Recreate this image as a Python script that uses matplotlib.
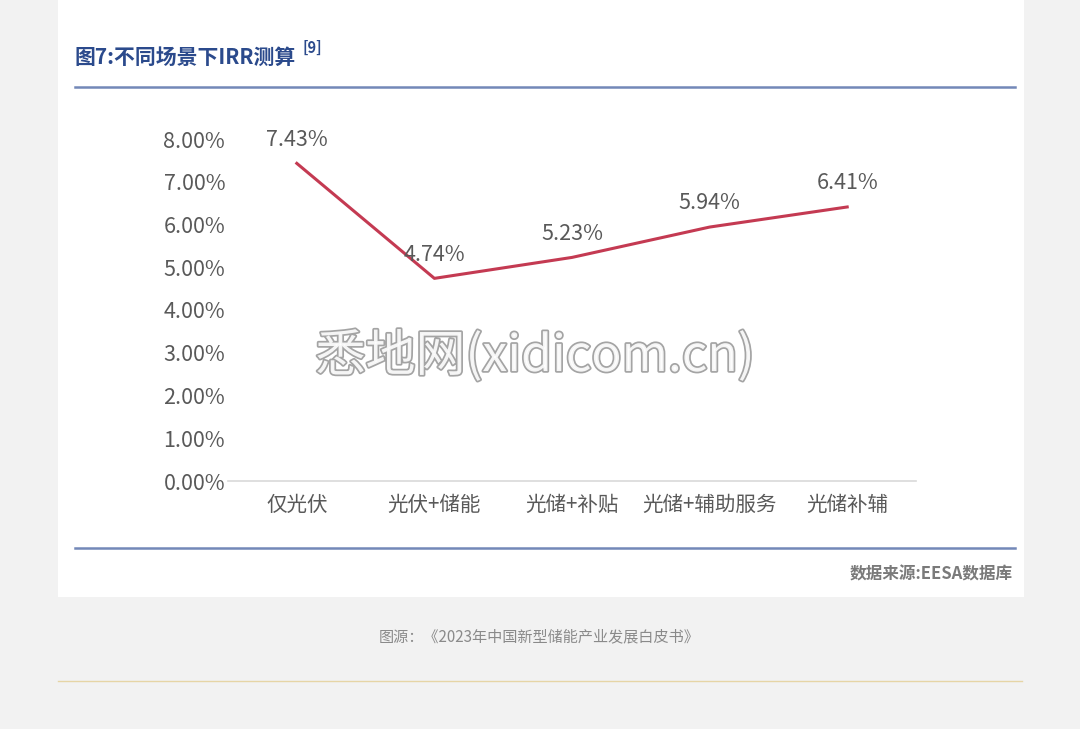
import matplotlib.pyplot as plt
from matplotlib.patches import Rectangle
from matplotlib.lines import Line2D
import matplotlib.patheffects as pe

plt.rcParams['font.family'] = ['Noto Sans CJK SC', 'DejaVu Sans']

# 数据
scenarios = ["仅光伏", "光伏+储能", "光储+补贴", "光储+辅助服务", "光储补辅"]
irr = [7.43, 4.74, 5.23, 5.94, 6.41]
yticks = [0, 1, 2, 3, 4, 5, 6, 7, 8]

W, H = 1080, 729
fig = plt.figure(figsize=(W / 100, H / 100), dpi=100)
fig.patch.set_facecolor('#f2f2f2')

# 白色面板（放在坐标轴下面）
fig.patches.append(Rectangle((58 / W, 1 - 597 / H), (1024 - 58) / W, 597 / H,
                             transform=fig.transFigure, facecolor='white',
                             edgecolor='none', zorder=-5))

# 标题与分隔线
fig.text(75 / W, 1 - 57 / H, "图7:不同场景下IRR测算", fontsize=15, fontweight='bold',
         color='#2b4a8c', va='center', ha='left')
fig.text(303 / W, 1 - 48 / H, "[9]", fontsize=10.5, fontweight='bold',
         color='#2b4a8c', va='center', ha='left')
fig.lines.append(Line2D([75 / W, 1015 / W], [1 - 87 / H, 1 - 87 / H],
                        transform=fig.transFigure, color='#7388b8', lw=1.8))
fig.lines.append(Line2D([75 / W, 1015 / W], [1 - 548 / H, 1 - 548 / H],
                        transform=fig.transFigure, color='#7388b8', lw=1.8))
fig.text(1013 / W, 1 - 574 / H, "数据来源:EESA数据库", fontsize=12, fontweight='bold',
         color='#7a7a7a', va='center', ha='right')
fig.text(539 / W, 1 - 637 / H, "图源：《2023年中国新型储能产业发展白皮书》", fontsize=10.9,
         color='#8a8a8a', va='center', ha='center')
fig.lines.append(Line2D([58 / W, 1022 / W], [1 - 681 / H, 1 - 681 / H],
                        transform=fig.transFigure, color='#e6d5a6', lw=1))

# 折线图
ax = fig.add_axes([228 / W, 1 - 481 / H, (916 - 228) / W, (481 - 139) / H])
ax.set_facecolor('none')
x = list(range(len(scenarios)))
ax.plot(x, irr, color='#c43a52', lw=2.2)
for xi, v in zip(x, irr):
    ax.text(xi, v + 0.3, f"{v:.2f}%", ha='center', va='bottom', fontsize=15.5,
            color='#595959')

ax.set_xlim(-0.5, len(scenarios) - 0.5)
ax.set_ylim(0, 8)
ax.set_yticks(yticks)
ax.set_yticklabels([f"{t:.2f}%" for t in yticks], fontsize=15.5, color='#595959')
ax.set_xticks(x)
ax.set_xticklabels(scenarios, fontsize=14.8, color='#595959')
ax.tick_params(length=0, pad=2)
ax.tick_params(axis='x', pad=9)
for s in ['top', 'right', 'left']:
    ax.spines[s].set_visible(False)
ax.spines['bottom'].set_color('#d9d9d9')
ax.spines['bottom'].set_linewidth(1.2)

# 水印
fig.text(535 / W, 1 - 357 / H, "悉地网(xidicom.cn)", fontsize=36, color='white',
         ha='center', va='center', alpha=0.9,
         path_effects=[pe.withStroke(linewidth=2.5, foreground='#9a9a9a')])

fig.savefig('out.png', dpi=100, facecolor=fig.get_facecolor())
